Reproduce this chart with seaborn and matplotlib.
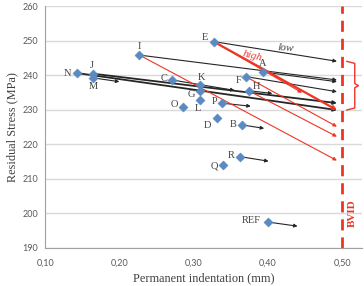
import pandas as pd
import matplotlib
matplotlib.use('Agg')
import matplotlib.pyplot as plt
import seaborn as sns

# pontos (indentação permanente x tensão residual)
rotulos = ['N', 'J', 'M', 'I', 'C', 'E', 'K', 'G', 'L', 'O', 'P', 'D', 'B', 'R', 'Q', 'REF', 'F', 'H', 'A']
indentacao = [0.143, 0.165, 0.165, 0.227, 0.271, 0.327, 0.309, 0.309, 0.309, 0.286, 0.338,
              0.331, 0.365, 0.363, 0.340, 0.400, 0.370, 0.374, 0.393]
tensao = [240.6, 240.4, 239.2, 245.8, 238.6, 249.7, 237.1, 235.3, 232.8, 230.7, 231.9,
          227.5, 225.6, 216.4, 214.0, 197.5, 239.6, 235.5, 240.9]

# setas pretas: origem -> destino
seta_preta_origem = ['E', 'I', 'A', 'F', 'J', 'N', 'M', 'C', 'H', 'P', 'B', 'R', 'REF']
seta_preta_x = [0.493, 0.493, 0.493, 0.493, 0.493, 0.493, 0.200, 0.355, 0.406, 0.377, 0.395, 0.401, 0.440]
seta_preta_y = [244.0, 238.6, 238.1, 235.2, 231.9, 229.9, 238.1, 235.6, 234.7, 231.0, 224.6, 215.1, 196.3]

# setas vermelhas (cenário "high")
seta_verm_origem = ['E', 'E', 'I', 'F', 'H']
seta_verm_x = [0.493, 0.446, 0.493, 0.493, 0.493]
seta_verm_y = [229.9, 234.9, 215.3, 225.1, 222.2]
seta_verm_lw = [1.6, 0.8, 0.8, 0.8, 0.8]

bvid = 0.50

df = pd.DataFrame({'rotulo': rotulos, 'x': indentacao, 'y': tensao})
pos = {r: (a, b) for r, a, b in zip(rotulos, indentacao, tensao)}

sns.set_style('white')
plt.rcParams['font.family'] = ['Liberation Serif', 'DejaVu Serif']

fig = plt.figure(figsize=(3.64, 2.86), dpi=100)
ax = fig.add_axes([0.124, 0.133, 0.871, 0.846])

azul = '#5a8ac2'
preto = '#262626'
vermelho = '#ee3524'
cinza_txt = '#404040'

# grade horizontal
for v in range(190, 261, 10):
    ax.axhline(v, color='#d9d9d9', lw=1.0, zorder=0)

# linha BVID
ax.axvline(bvid, color=vermelho, lw=2.0, ls=(0, (4, 2.5)), zorder=1)

# setas pretas
for o, xe, ye in zip(seta_preta_origem, seta_preta_x, seta_preta_y):
    lw = 1.3 if o in ('N', 'J') else 0.8
    ax.annotate('', xy=(xe, ye), xytext=pos[o],
                arrowprops=dict(arrowstyle='-|>', color=preto, lw=lw, mutation_scale=5,
                                shrinkA=0, shrinkB=0), zorder=2)

# setas vermelhas
for o, xe, ye, lw in zip(seta_verm_origem, seta_verm_x, seta_verm_y, seta_verm_lw):
    ax.annotate('', xy=(xe, ye), xytext=pos[o],
                arrowprops=dict(arrowstyle='-|>', color=vermelho, lw=lw, mutation_scale=5,
                                shrinkA=0, shrinkB=0), zorder=2)

sns.scatterplot(data=df, x='x', y='y', marker='D', s=22, color=azul, edgecolor=azul,
                linewidth=0.3, ax=ax, zorder=3)

# rótulos dos pontos
desloc = {'N': (-4, 0, 'right', 'center'), 'J': (-1, 3, 'center', 'bottom'),
          'M': (0, -3, 'center', 'top'), 'I': (0, 3, 'center', 'bottom'),
          'C': (-3, 1, 'right', 'center'), 'E': (-4, 3, 'right', 'center'),
          'K': (1, 2, 'center', 'bottom'), 'G': (-4, -2, 'right', 'center'),
          'L': (-2, -3, 'center', 'top'), 'O': (-4, 2, 'right', 'center'),
          'P': (-3, 1, 'right', 'center'), 'D': (-4, -5, 'right', 'center'),
          'B': (-4, 0, 'right', 'center'), 'R': (-4, 1, 'right', 'center'),
          'Q': (-4, -1, 'right', 'center'), 'REF': (-5, 1, 'right', 'center'),
          'F': (-3, -3, 'right', 'center'), 'H': (3, 3, 'left', 'center'),
          'A': (0, 3, 'center', 'bottom')}
for r, a, b in zip(rotulos, indentacao, tensao):
    dx, dy, ha, va = desloc[r]
    ax.annotate(r, (a, b), xytext=(dx, dy), textcoords='offset points',
                ha=ha, va=va, fontsize=7.5, color=cinza_txt, zorder=4)

# chave "}" entre os extremos das setas pretas
topo, base = max(seta_preta_y[:6]), min(seta_preta_y[:6])
meio = (topo + base) / 2
x0, x1, x2 = bvid + 0.006, bvid + 0.017, bvid + 0.022
ax.plot([x0, x1, x1, x2, x1, x1, x0],
        [topo, topo - 0.6, meio + 0.6, meio, meio - 0.6, base + 0.6, base],
        color=vermelho, lw=1.0, zorder=2, clip_on=False)

ax.text(0.424, 247.9, 'low', fontsize=8, style='italic', color=cinza_txt,
        ha='center', va='center', rotation=-5)
ax.text(0.379, 245.5, 'high', fontsize=8, style='italic', color=vermelho,
        ha='center', va='center', rotation=-14)
ax.text(bvid + 0.014, 200, 'BVID', fontsize=8, color=vermelho, fontweight='bold',
        rotation=90, ha='center', va='center')

ax.set_xlim(0.10, 0.527)
ax.set_ylim(190, 260)
ax.set_xticks([0.10, 0.20, 0.30, 0.40, 0.50])
ax.set_xticklabels([f'{t:.2f}'.replace('.', ',') for t in [0.10, 0.20, 0.30, 0.40, 0.50]])
ax.set_yticks(range(190, 261, 10))
for lab in ax.get_xticklabels() + ax.get_yticklabels():
    lab.set_family(['Lato', 'DejaVu Sans'])
    lab.set_fontsize(6.5)
    lab.set_color('#595959')
ax.tick_params(axis='both', length=3, width=0.8, color='#a0a0a0', pad=2)
ax.tick_params(axis='x', pad=5)

ax.set_xlabel('Permanent indentation (mm)', fontsize=8.8, color=cinza_txt, labelpad=3)
ax.set_ylabel('Residual Stress (MPa)', fontsize=8.8, color=cinza_txt, labelpad=3)

for lado in ['top', 'right']:
    ax.spines[lado].set_visible(False)
for lado in ['left', 'bottom']:
    ax.spines[lado].set_color('#a0a0a0')
    ax.spines[lado].set_linewidth(0.8)

fig.savefig('out.png', dpi=100)
